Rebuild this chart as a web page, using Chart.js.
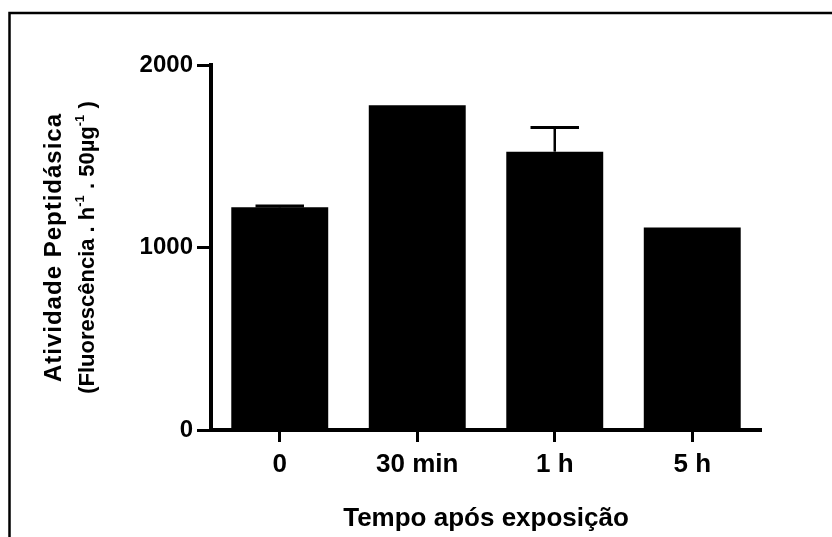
<!DOCTYPE html>
<html>
<head>
<meta charset="utf-8">
<script src="https://cdn.jsdelivr.net/npm/chart.js@4.4.1/dist/chart.umd.min.js"></script>
<style>
  html, body { margin: 0; padding: 0; background: #fff; }
  #wrap { width: 832px; height: 537px; position: relative; }
</style>
</head>
<body>
<div id="wrap"><canvas id="chart"></canvas></div>
<script>
// values
const categories = ['0', '30 min', '1 h', '5 h'];
const activity = [1220, 1780, 1525, 1110];
const errorUp = [8, 0, 132, 0];
const yTicks = [0, 1000, 2000];
const yTickLabels = ['0', '1000', '2000'];
const xTitle = 'Tempo após exposição';
const yTitleLine1 = 'Atividade Peptidásica';
// second line: [text, isSuperscript]
const yTitleLine2 = [['(Fluorescência . h', false], ['-1', true], [' . 50µg', false], ['-1', true], [' )', false]];

const FAMILY = "'Liberation Sans', Arial, sans-serif";
const boldFont = size => ({ family: FAMILY, size: size, weight: 'bold' });

// white page + the frame lines at top and left
const frame = {
  id: 'frame',
  beforeDraw(chart) {
    const ctx = chart.ctx;
    ctx.save();
    ctx.fillStyle = '#fff';
    ctx.fillRect(0, 0, chart.width, chart.height);
    ctx.strokeStyle = '#000';
    ctx.lineWidth = 2.5;
    ctx.beginPath();
    ctx.moveTo(chart.width, 13);
    ctx.lineTo(9.5, 13);
    ctx.lineTo(9.5, chart.height);
    ctx.stroke();
    ctx.restore();
  }
};

// upper error bars (only the top half, GraphPad style)
const errorBars = {
  id: 'errorBars',
  afterDatasetsDraw(chart) {
    const ctx = chart.ctx;
    const y = chart.scales.y;
    const meta = chart.getDatasetMeta(0);
    ctx.save();
    ctx.strokeStyle = '#000';
    meta.data.forEach((bar, i) => {
      if (!errorUp[i]) return;
      const top = y.getPixelForValue(activity[i] + errorUp[i]);
      const half = bar.width * 0.25;
      ctx.lineWidth = 2.5;
      ctx.beginPath();
      ctx.moveTo(bar.x, bar.y);
      ctx.lineTo(bar.x, top);
      ctx.stroke();
      ctx.lineWidth = 3;
      ctx.beginPath();
      ctx.moveTo(bar.x - half, top);
      ctx.lineTo(bar.x + half, top);
      ctx.stroke();
    });
    ctx.restore();
  }
};

// rotated two-line y title with superscripts
const yTitle = {
  id: 'yTitle',
  afterDraw(chart) {
    const ctx = chart.ctx;
    const area = chart.chartArea;
    const cy = (area.top + area.bottom) / 2;
    ctx.save();
    ctx.fillStyle = '#000';
    ctx.textBaseline = 'middle';

    ctx.save();
    ctx.translate(area.left - 157, cy);
    ctx.rotate(-Math.PI / 2);
    ctx.font = 'bold 24px ' + FAMILY;
    ctx.letterSpacing = '1px';
    ctx.textAlign = 'center';
    ctx.fillText(yTitleLine1, 0, 0);
    ctx.restore();

    ctx.save();
    ctx.translate(area.left - 123, cy);
    ctx.rotate(-Math.PI / 2);
    ctx.textAlign = 'left';
    const fontFor = sup => (sup ? 'bold 13px ' : 'bold 22px ') + FAMILY;
    let total = 0;
    yTitleLine2.forEach(([t, sup]) => { ctx.font = fontFor(sup); total += ctx.measureText(t).width; });
    let x = -total / 2;
    yTitleLine2.forEach(([t, sup]) => {
      ctx.font = fontFor(sup);
      ctx.fillText(t, x, sup ? -8 : 0);
      x += ctx.measureText(t).width;
    });
    ctx.restore();

    ctx.restore();
  }
};

new Chart(document.getElementById('chart'), {
  type: 'bar',
  data: {
    labels: categories,
    datasets: [{
      data: activity,
      backgroundColor: '#000',
      borderWidth: 0,
      categoryPercentage: 1,
      barPercentage: 0.705
    }]
  },
  options: {
    responsive: true,
    maintainAspectRatio: false,
    animation: false,
    events: [],
    layout: { padding: { top: 65, right: 71, left: 0, bottom: 0 } },
    plugins: {
      legend: { display: false },
      tooltip: { enabled: false }
    },
    scales: {
      x: {
        grid: { offset: false, drawOnChartArea: false, tickLength: 12, tickWidth: 3, color: '#000' },
        border: { width: 4, color: '#000' },
        ticks: { color: '#000', font: boldFont(26), padding: 7, maxRotation: 0 },
        title: { display: true, text: xTitle, color: '#000', font: boldFont(26), padding: { top: 0, bottom: 3 } },
        afterFit(scale) { scale.height = 107; }
      },
      y: {
        min: 0,
        max: 2000,
        afterBuildTicks(scale) { scale.ticks = yTicks.map(v => ({ value: v })); },
        grid: { drawOnChartArea: false, tickLength: 14, tickWidth: 3, color: '#000' },
        border: { width: 4, color: '#000' },
        ticks: {
          color: '#000',
          font: boldFont(24),
          padding: 4,
          callback: (value, i) => yTickLabels[i]
        },
        afterFit(scale) { scale.width = 211; }
      }
    }
  },
  plugins: [frame, errorBars, yTitle]
});
</script>
</body>
</html>
